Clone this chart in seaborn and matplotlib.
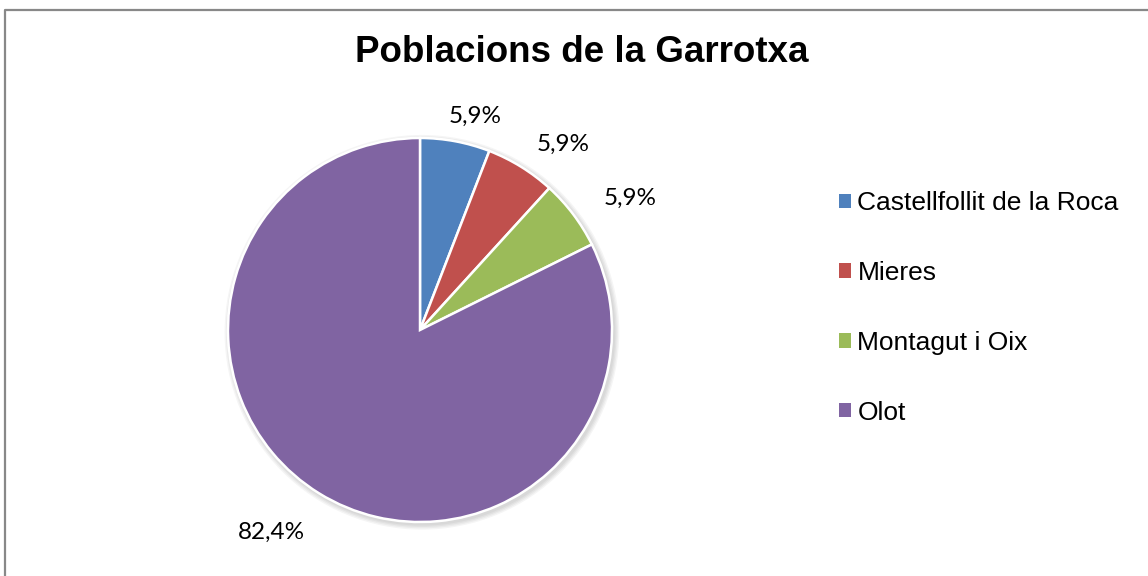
import matplotlib
matplotlib.use("Agg")
import matplotlib.pyplot as plt
import seaborn as sns
import numpy as np
from matplotlib.patches import Patch, Circle
from matplotlib.lines import Line2D

categories = ["Castellfollit de la Roca", "Mieres", "Montagut i Oix", "Olot"]
values = [1, 1, 1, 14]
pct_labels = ["5,9%", "5,9%", "5,9%", "82,4%"]
title = "Poblacions de la Garrotxa"

sns.set_theme(style="white")
plt.rcParams['font.family'] = ['Liberation Sans', 'DejaVu Sans']
colors = sns.color_palette(["#4F81BD", "#C0504D", "#9BBB59", "#8064A2"])

W, H = 1148, 576
fig = plt.figure(figsize=(W / 100, H / 100), dpi=100)
fig.patch.set_facecolor("white")

# outer frame (top and left edges visible)
fig.add_artist(Line2D([4.5 / W, 4.5 / W, 1], [0, 1 - 9.5 / H, 1 - 9.5 / H],
                      transform=fig.transFigure, color="#888888", linewidth=1.6))

cx, cy, r = 420, 330, 192
ax = fig.add_axes([(cx - r) / W, (H - cy - r) / H, 2 * r / W, 2 * r / H])
# soft shadow
for k in range(4):
    ax.add_patch(Circle((0.01, -0.012), 1 + 0.007 * (k + 1), facecolor="black",
                        edgecolor="none", alpha=0.04, zorder=0, clip_on=False))
wedges, _ = ax.pie(values, colors=colors, startangle=90, counterclock=False, radius=1,
                   wedgeprops=dict(edgecolor="white", linewidth=1.8, zorder=2))
ax.set_xlim(-1, 1)
ax.set_ylim(-1, 1)
ax.set_aspect("equal")
ax.axis("off")

dists = [1.15, 1.22, 1.29, 1.31]
shift = [-4, -6, -5, -4.5]
for w, lab, d, s in zip(wedges, pct_labels, dists, shift):
    ang = np.deg2rad((w.theta1 + w.theta2) / 2 + s)
    ax.text(d * np.cos(ang), d * np.sin(ang), lab, ha="center", va="center",
            fontsize=17.5, family=["Lato", "DejaVu Sans"], color="black", clip_on=False)

fig.text(582 / W, 1 - 53 / H, title, ha="center", va="center", fontsize=26.5,
         fontweight="bold", color="black")

handles = [Patch(facecolor=c, edgecolor="none") for c in colors]
leg = fig.legend(handles, categories, loc="upper left", bbox_to_anchor=(839 / W, 1 - 191 / H),
                 frameon=False, fontsize=19, handlelength=0.45, handleheight=0.45,
                 handletextpad=0.25, labelspacing=1.74, borderpad=0, borderaxespad=0,
                 labelcolor="black")

fig.savefig("out.png", dpi=100, facecolor="white")
